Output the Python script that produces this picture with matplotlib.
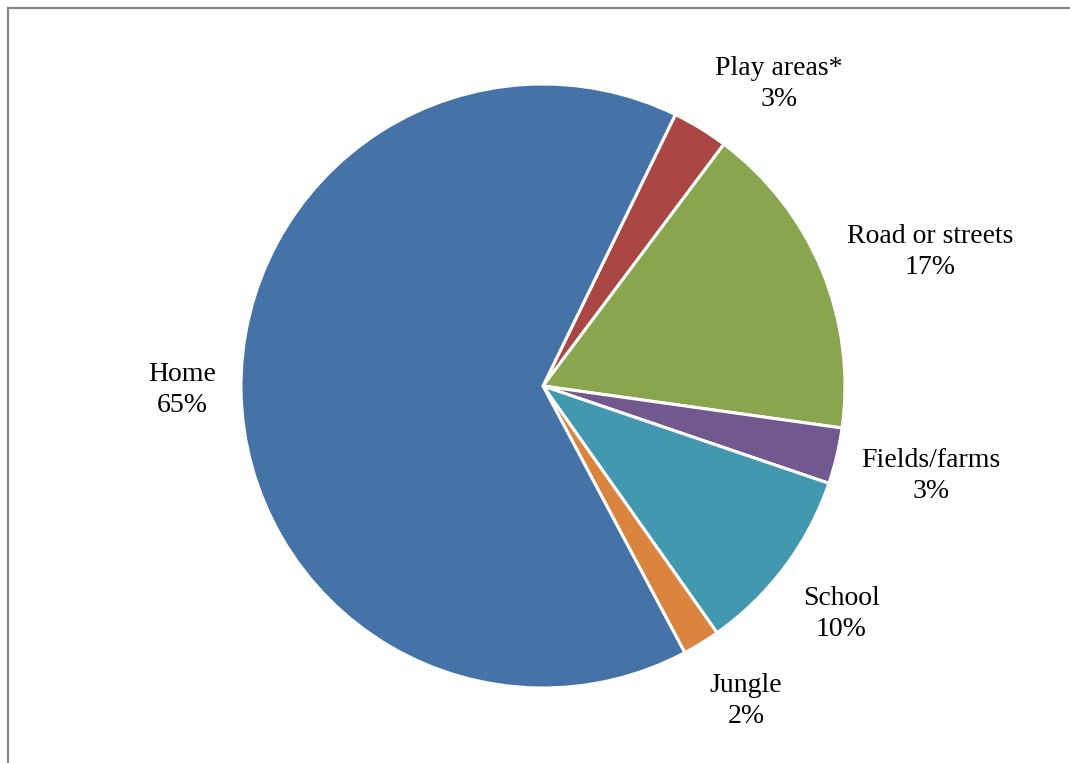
import matplotlib
matplotlib.use("Agg")
import matplotlib.pyplot as plt
from matplotlib.lines import Line2D

# share of locations (percent)
places = ["Play areas*", "Road or streets", "Fields/farms", "School", "Jungle", "Home"]
shares = [3, 17, 3, 10, 2, 65]
colors = ["#AA4643", "#89A54E", "#71588F", "#4198AF", "#DB843D", "#4572A7"]

# label anchor points, in units of the pie radius
label_pos = [(0.781, 1.000), (1.281, 0.444), (1.285, -0.298),
             (0.987, -0.755), (0.672, -1.043), (-1.195, -0.013)]

W, H = 1070, 763
fig = plt.figure(figsize=(W / 100, H / 100), dpi=100)
plt.rcParams['font.family'] = ['Liberation Serif', 'DejaVu Serif']

cx, cy, r = 543, 386, 302
ax = fig.add_axes([(cx - r) / W, (H - cy - r) / H, 2 * r / W, 2 * r / H])
ax.pie(shares, colors=colors, startangle=64, counterclock=False,
       radius=1, wedgeprops=dict(edgecolor="white", linewidth=2.2))
ax.set_xlim(-1, 1)
ax.set_ylim(-1, 1)
ax.set_aspect("equal")
ax.axis("off")

for name, val, (x, y) in zip(places, shares, label_pos):
    ax.text(x, y, f"{name}\n{val}%", ha="center", va="center",
            fontsize=20, linespacing=1.32, color="black", clip_on=False)

# chart area border (left and top edges)
fig.add_artist(Line2D([7.5 / W, 7.5 / W], [0, 1 - 7.5 / H], color="#888888", lw=1.6,
                      transform=fig.transFigure))
fig.add_artist(Line2D([7.5 / W, 1], [1 - 7.5 / H, 1 - 7.5 / H], color="#888888", lw=1.6,
                      transform=fig.transFigure))

fig.savefig("out.png", dpi=100, facecolor="white")
